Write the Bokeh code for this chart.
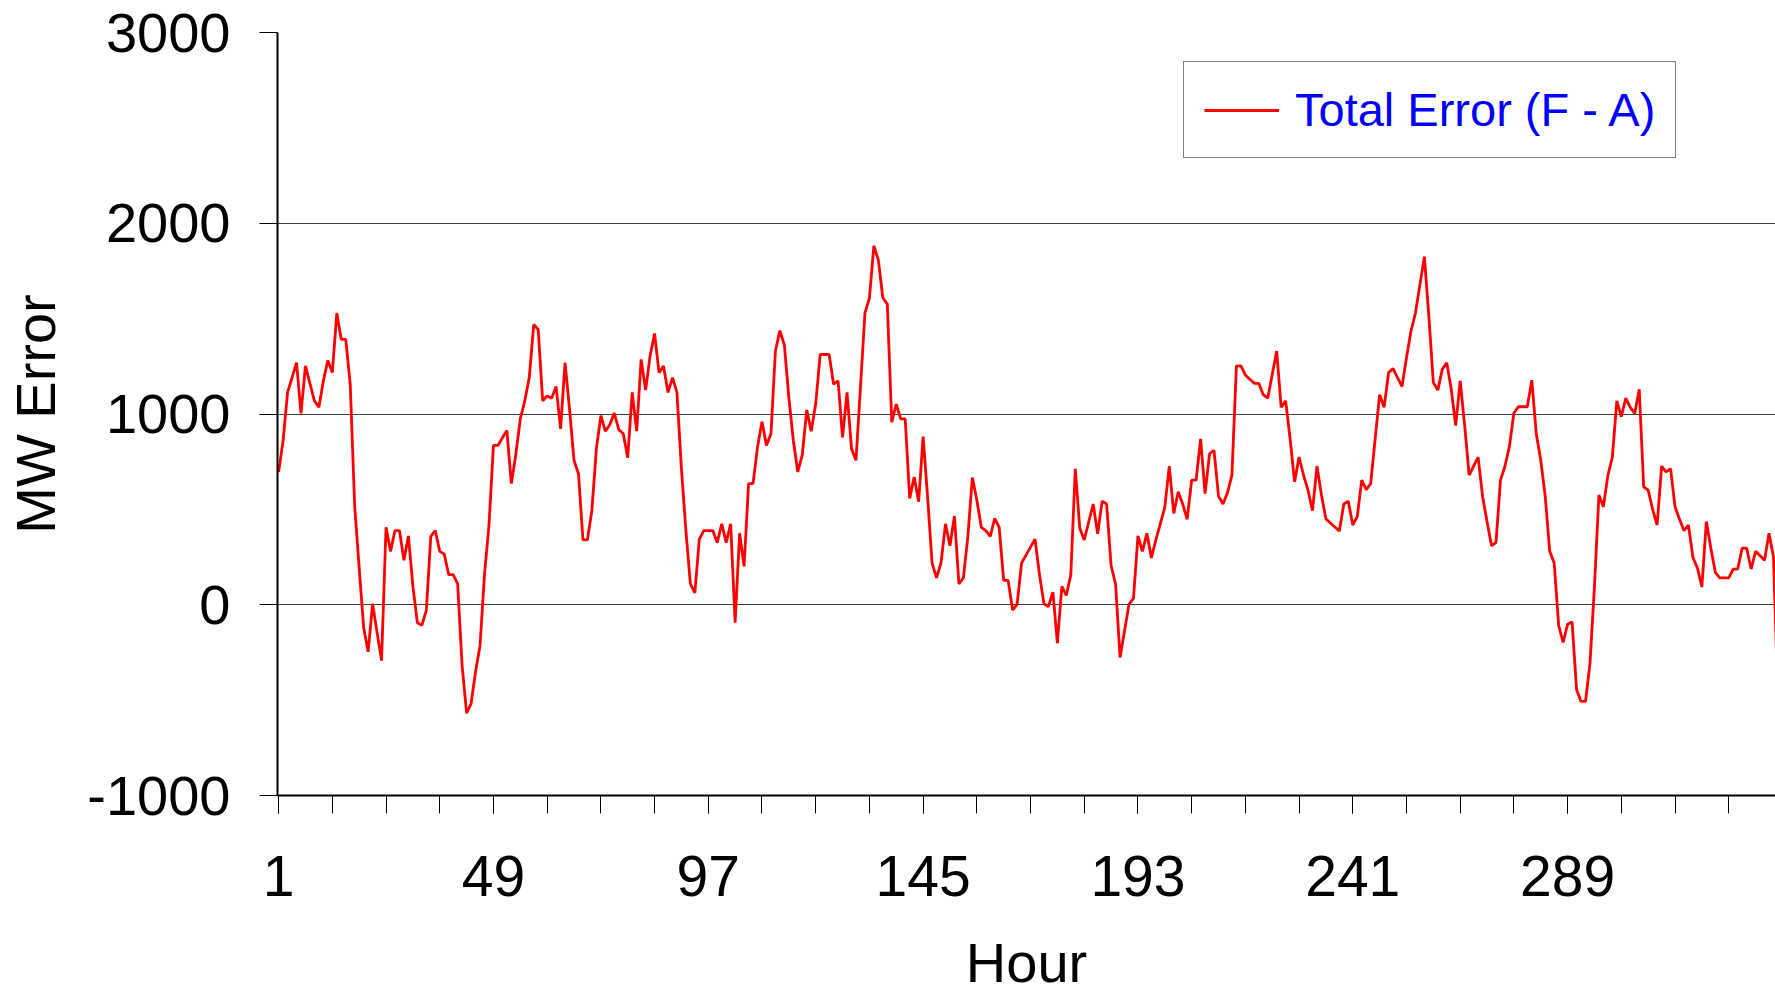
from bokeh.plotting import figure
from bokeh.models import Range1d, FixedTicker, Legend, LegendItem
from bokeh.embed import file_html
from bokeh.resources import INLINE

# Hourly total forecast error (F - A), MW, one list per day
day1 = [696, 861, 1113, 1191, 1269, 1003, 1252, 1160, 1069, 1035, 1174, 1281, 1217, 1529, 1391, 1391, 1156, 514, 193, -120, -247, 5, -146, -293]
day2 = [406, 280, 389, 389, 233, 361, 97, -94, -108, -30, 358, 389, 280, 266, 158, 158, 109, -319, -568, -519, -351, -215, 158, 418]
day3 = [835, 835, 875, 913, 635, 788, 974, 1069, 1191, 1469, 1443, 1069, 1095, 1082, 1144, 922, 1269, 1026, 757, 687, 340, 340, 497, 818]
day4 = [991, 910, 944, 1005, 918, 896, 771, 1113, 910, 1286, 1125, 1304, 1422, 1217, 1252, 1113, 1191, 1113, 713, 389, 109, 62, 344, 389]
day5 = [389, 389, 326, 424, 326, 424, -94, 375, 201, 635, 635, 826, 960, 835, 896, 1330, 1437, 1361, 1087, 861, 696, 786, 1021, 910]
day6 = [1052, 1312, 1312, 1312, 1156, 1174, 878, 1113, 818, 757, 1139, 1529, 1608, 1882, 1807, 1608, 1576, 957, 1052, 974, 974, 557, 670, 540]
day7 = [882, 566, 219, 141, 219, 424, 309, 465, 109, 141, 358, 667, 549, 406, 389, 358, 453, 406, 128, 128, -28, 2, 219, 260]
day8 = [302, 344, 158, 5, -10, 66, -201, 97, 49, 158, 713, 401, 340, 434, 528, 372, 543, 528, 205, 109, -276, -137, 2, 33]
day9 = [361, 280, 375, 245, 340, 425, 510, 727, 479, 592, 528, 448, 653, 653, 870, 583, 792, 809, 569, 528, 587, 679, 1252, 1252]
day10 = [1205, 1182, 1161, 1161, 1101, 1083, 1206, 1330, 1035, 1069, 870, 644, 774, 679, 601, 493, 727, 575, 450, 429, 408, 387, 528, 543]
day11 = [418, 462, 653, 604, 635, 868, 1101, 1035, 1217, 1238, 1191, 1144, 1295, 1434, 1529, 1677, 1825, 1512, 1165, 1125, 1234, 1269, 1130, 939]
day12 = [1174, 939, 679, 727, 774, 569, 436, 309, 326, 653, 726, 830, 1005, 1038, 1038, 1038, 1177, 896, 757, 569, 280, 219, -108, -198]
day13 = [-102, -90, -444, -507, -507, -307, 97, 575, 514, 679, 774, 1069, 986, 1083, 1035, 1003, 1130, 618, 601, 500, 418, 727, 696, 714]
day14 = [514, 448, 389, 418, 248, 193, 94, 436, 297, 170, 141, 141, 141, 187, 187, 297, 297, 187, 280, 257, 233, 375, 250, -500]

days = [day1, day2, day3, day4, day5, day6, day7, day8, day9, day10, day11, day12, day13, day14]
total_error = [v for d in days for v in d]
hours = list(range(1, len(total_error) + 1))

x_major_ticks = [1, 49, 97, 145, 193, 241, 289]
x_minor_ticks = list(range(1, 337, 12))
y_ticks = [-1000, 0, 1000, 2000, 3000]
y_tick_text = {-1000: "-1000"}
grid_ticks = [0, 1000, 2000, 3000]
series_name = "Total Error (F - A)"
x_title = "Hour"
y_title = "MW Error"

FONT = "Liberation Sans"

p = figure(width=1775, height=996, output_backend="svg", toolbar_location=None,
           x_range=Range1d(0.75, 335.45), y_range=Range1d(-1000, 3000),
           min_border_left=277, min_border_right=0, min_border_top=32,
           min_border_bottom=201, background_fill_color="white",
           border_fill_color="white")
p.outline_line_color = None

r = p.line(hours, total_error, line_color="#ff0000", line_width=2.8)

# x axis
xa = p.xaxis[0]
xa.ticker = FixedTicker(ticks=x_major_ticks, minor_ticks=x_minor_ticks)
xa.axis_label = x_title
# y axis
ya = p.yaxis[0]
ya.ticker = FixedTicker(ticks=y_ticks)
ya.major_label_overrides = y_tick_text
ya.axis_label = y_title
ya.minor_tick_line_color = None

for ax in (xa, ya):
    ax.axis_line_color = "black"
    ax.axis_line_width = 2
    ax.major_tick_line_color = "black"
    ax.major_tick_line_width = 1
    ax.major_tick_out = 18
    ax.major_tick_in = 0
    ax.major_label_text_font = FONT
    ax.major_label_text_color = "black"
    ax.axis_label_text_font = FONT
    ax.axis_label_text_font_size = "56px"
    ax.axis_label_text_font_style = "normal"
    ax.axis_label_text_color = "black"

xa.major_label_text_font_size = "57px"
ya.major_label_text_font_size = "56px"
xa.minor_tick_line_color = "black"
xa.minor_tick_line_width = 1
xa.minor_tick_out = 18
xa.minor_tick_in = 0
xa.major_label_standoff = 42
xa.axis_label_standoff = 32
ya.major_label_standoff = 29
ya.axis_label_standoff = 17

p.xgrid.visible = False
p.ygrid.ticker = FixedTicker(ticks=grid_ticks)
p.ygrid.grid_line_color = "#404040"
p.ygrid.grid_line_width = 1

legend = Legend(items=[LegendItem(label=series_name, renderers=[r])],
                location=(906, 637), margin=0, padding=20, spacing=0,
                glyph_width=75, glyph_height=40, label_standoff=16,
                border_line_color="black", border_line_width=1,
                background_fill_color="white", background_fill_alpha=1,
                label_text_font=FONT, label_text_font_size="47px",
                label_text_color="#0000ff")
p.add_layout(legend)

open("out.html", "w").write(file_html(p, INLINE))
